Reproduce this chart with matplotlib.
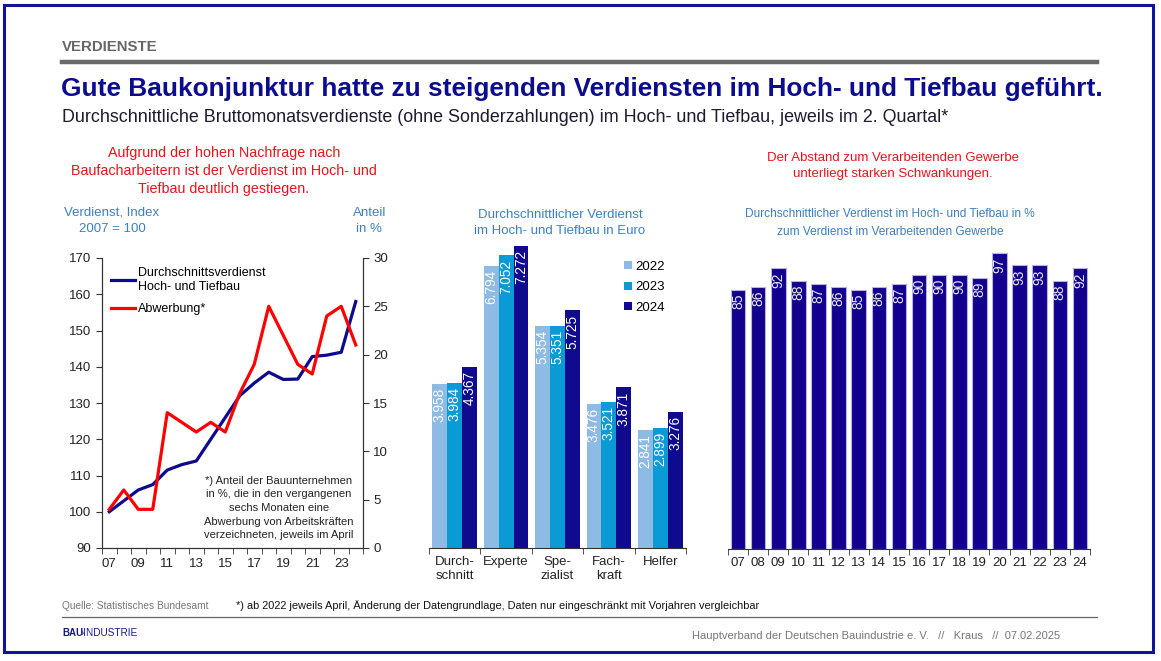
import numpy as np
import matplotlib.pyplot as plt
from matplotlib.lines import Line2D
from matplotlib.patches import Rectangle

plt.rcParams['font.family'] = ['Liberation Sans', 'DejaVu Sans']

W, H = 1161, 661

# left chart: index of average earnings and share of firms reporting poaching
years = list(range(2007, 2025))
index_verdienst = [100, 103, 106, 107.5, 111.5, 113, 114, 120, 126, 132,
                   135.5, 138.5, 136.5, 136.6, 142.8, 143.2, 144, 158]
abwerbung = [4, 6, 4, 4, 14, 13, 12, 13, 12, 16, 19, 25, 22, 19, 18, 24, 25, 21]

# middle chart: average earnings in euro by skill level
gruppen = ['Durch-\nschnitt', 'Experte', 'Spe-\nzialist', 'Fach-\nkraft', 'Helfer']
jahre_mid = ['2022', '2023', '2024']
euro = {
    '2022': [3958, 6794, 5354, 3476, 2841],
    '2023': [3984, 7052, 5351, 3521, 2899],
    '2024': [4367, 7272, 5725, 3871, 3276],
}

# right chart: construction earnings in % of manufacturing
relativ = [85, 86, 92, 88, 87, 86, 85, 86, 87, 90, 90, 90, 89, 97, 93, 93, 88, 92]

NAVY = '#0d0a8c'
RED = '#e8141b'
LBLUE = '#3d7fbf'
bar_cols = {'2022': '#8dbbe3', '2023': '#0a9ad6', '2024': '#100a8f'}


def px_axes(x0, y0, x1, y1):
    return fig.add_axes([x0 / W, 1 - y1 / H, (x1 - x0) / W, (y1 - y0) / H])


def T(x, y, s, **kw):
    kw.setdefault('va', 'center')
    return fig.text(x / W, 1 - y / H, s, **kw)


fig = plt.figure(figsize=(W / 100, H / 100), dpi=100)

# frame and header
fig.patches.append(Rectangle((4 / W, 1 - 652 / H), 1149 / W, 647 / H, transform=fig.transFigure,
                             fill=False, edgecolor='#12129a', linewidth=2.2))
T(62, 47, 'VERDIENSTE', color='#666666', fontsize=10.8, fontweight='bold')
fig.add_artist(Line2D([62 / W, 1097 / W], [1 - 62 / H, 1 - 62 / H], color='#6a6a6a', linewidth=3.2))
T(61, 89, 'Gute Baukonjunktur hatte zu steigenden Verdiensten im Hoch- und Tiefbau geführt.',
  color='#0c0c8e', fontsize=18.9, fontweight='bold')
T(62, 117, 'Durchschnittliche Bruttomonatsverdienste (ohne Sonderzahlungen) im Hoch- und Tiefbau, '
  'jeweils im 2. Quartal*', color='#1c1c30', fontsize=12.85)

# footer
T(62, 606, 'Quelle: Statistisches Bundesamt', color='#777777', fontsize=7.3)
T(236, 606, '*) ab 2022 jeweils April, Änderung der Datengrundlage, Daten nur eingeschränkt mit '
  'Vorjahren vergleichbar', color='#111111', fontsize=7.9)
fig.add_artist(Line2D([62 / W, 1097 / W], [1 - 617 / H, 1 - 617 / H], color='#666666', linewidth=0.9))
T(62, 633, 'BAU', color='#151a8c', fontsize=7, fontweight='bold')
T(81, 633, '\u203aINDUSTRIE', color='#151a8c', fontsize=7.2)
T(1060, 636, 'Hauptverband der Deutschen Bauindustrie e. V.   //   Kraus   //  07.02.2025',
  color='#777777', fontsize=8, ha='right')

# annotations and panel titles
T(224, 171, 'Aufgrund der hohen Nachfrage nach\nBaufacharbeitern ist der Verdienst im Hoch- und\n'
  'Tiefbau deutlich gestiegen.', color=RED, fontsize=10.3, ha='center', linespacing=1.36)
T(893, 166, 'Der Abstand zum Verarbeitenden Gewerbe\nunterliegt starken Schwankungen.',
  color=RED, fontsize=9.5, ha='center', linespacing=1.45)
T(112, 221, 'Verdienst, Index\n2007 = 100', color=LBLUE, fontsize=9.5, ha='center', linespacing=1.45)
T(386, 221, 'Anteil\nin %', color=LBLUE, fontsize=9.5, ha='right', multialignment='center', linespacing=1.45)
T(560, 223, 'Durchschnittlicher Verdienst\nim Hoch- und Tiefbau in Euro', color=LBLUE, fontsize=9.5,
  ha='center', linespacing=1.5)
T(890, 223, 'Durchschnittlicher Verdienst im Hoch- und Tiefbau in %\nzum Verdienst im Verarbeitenden Gewerbe',
  color=LBLUE, fontsize=8.6, ha='center', linespacing=1.65)

# ---- left chart
ax1 = px_axes(102, 258, 363, 548)
ax2 = ax1.twinx()
l1, = ax1.plot(years, index_verdienst, color=NAVY, linewidth=2.3)
l2, = ax2.plot(years, abwerbung, color='#ff0000', linewidth=2.3)
ax1.set_ylim(90, 170)
ax1.set_yticks(range(90, 171, 10))
ax2.set_ylim(0, 30)
ax2.set_yticks(range(0, 31, 5))
ax1.set_xlim(2006.5, 2024.5)
ax1.set_xticks(years[::2], [f'{y % 100:02d}' for y in years[::2]])
ax1.set_xticks(np.arange(2006.5, 2025, 1), minor=True)
ax1.tick_params(axis='x', which='major', length=0, pad=7)
ax1.tick_params(axis='x', which='minor', length=4, color='#333333')
for a in (ax1, ax2):
    a.set_facecolor('none')
    a.spines['top'].set_visible(False)
    for s in a.spines.values():
        s.set_color('#333333')
    a.tick_params(axis='y', length=4, color='#333333', labelsize=9.5, colors='#222222')
    a.tick_params(axis='x', labelsize=9.5, colors='#222222')
ax1.legend([l1, l2], ['Durchschnittsverdienst\nHoch- und Tiefbau', 'Abwerbung*'], loc='upper left',
           bbox_to_anchor=(0.0, 1.0), frameon=False, fontsize=9, handlelength=1.9, handletextpad=0.3,
           labelspacing=0.85, borderaxespad=0.3)
T(279, 508, '*) Anteil der Bauunternehmen\nin %, die in den vergangenen\nsechs Monaten eine\n'
  'Abwerbung von Arbeitskräften\nverzeichneten, jeweils im April', color='#222222', fontsize=8,
  ha='center', linespacing=1.44)

# ---- middle chart
axm = px_axes(429, 230, 686, 548)
xm = np.arange(len(gruppen))
bw = 0.29
handles = []
for i, j in enumerate(jahre_mid):
    b = axm.bar(xm + (i - 1) * bw, euro[j], width=bw, color=bar_cols[j], label=j)
    handles.append(b)
    for xx, v in zip(xm + (i - 1) * bw, euro[j]):
        axm.annotate(f'{v:,}'.replace(',', '.'), (xx, v), xytext=(0, -3), textcoords='offset points',
                     rotation=90, ha='center', va='top', color='white', fontsize=9.8)
axm.set_ylim(0, 7663)
axm.set_xlim(-0.5, len(gruppen) - 0.5)
axm.set_xticks(xm, gruppen)
axm.set_xticks(np.arange(-0.5, len(gruppen)), minor=True)
axm.tick_params(axis='x', which='major', length=0, pad=6, labelsize=9.5, colors='#222222')
axm.tick_params(axis='x', which='minor', length=4, color='#333333')
axm.set_yticks([])
for s in ('left', 'right', 'top'):
    axm.spines[s].set_visible(False)
axm.spines['bottom'].set_color('#333333')
axm.legend(handles=handles, loc='upper left', bbox_to_anchor=(0.74, 0.92), frameon=False, fontsize=9.5,
           handlelength=0.55, handleheight=0.55, handletextpad=0.3, labelspacing=0.65, borderaxespad=0)

# ---- right chart
axr = px_axes(728, 244, 1090, 549)
xr = np.arange(len(years))
axr.bar(xr, relativ, width=0.72, color='#13008f', edgecolor='#b7b4dc', linewidth=0.8)
for xx, v in zip(xr, relativ):
    axr.annotate(str(v), (xx, v), xytext=(0, -3), textcoords='offset points', rotation=90,
                 ha='center', va='top', color='#e8e8f4', fontsize=10)
axr.set_ylim(0, 100)
axr.set_xlim(-0.5, len(years) - 0.5)
axr.set_xticks(xr, [f'{y % 100:02d}' for y in years])
axr.set_xticks(np.arange(-0.5, len(years)), minor=True)
axr.tick_params(axis='x', which='major', length=0, pad=6, labelsize=9.5, colors='#222222')
axr.tick_params(axis='x', which='minor', length=4, color='#333333')
axr.set_yticks([])
for s in ('left', 'right', 'top'):
    axr.spines[s].set_visible(False)
axr.spines['bottom'].set_color('#333333')

fig.savefig('out.png', dpi=100)
